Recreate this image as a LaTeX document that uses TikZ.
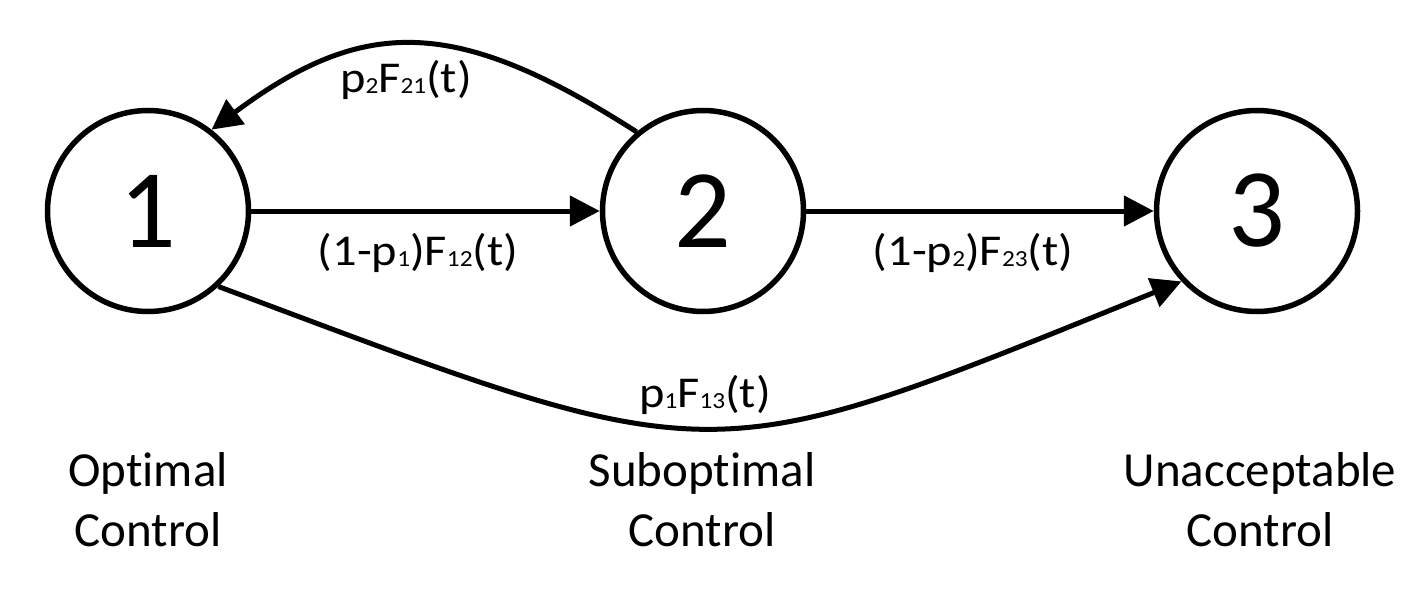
\documentclass[tikz,border=0pt]{standalone}
\usepackage{fontspec}
\setmainfont{Carlito}[Ligatures=NoCommon]
\usetikzlibrary{arrows.meta}
\newcommand{\sbs}[1]{\raisebox{-0.5pt}{\fontsize{23}{23}\selectfont #1}}
\newcommand{\elab}[1]{\scalebox{1.1}[1]{\fontsize{44}{52}\selectfont #1}}
\tikzset{
  state/.style={circle, draw=black, line width=5.5pt, minimum size=201pt, inner sep=0pt,
                font=\fontsize{112}{112}\selectfont},
  arr/.style={line width=5pt, -{Triangle[length=30pt,width=30pt]}},
  elabel/.style={inner sep=0pt},
  lbl/.style={align=center, inner sep=0pt, font=\fontsize{49}{60}\selectfont}
}
\begin{document}
\begin{tikzpicture}[x=1pt,y=-1pt]
\useasboundingbox (0,0) rectangle (1423,591);
\node[state] (n1) at (148,211) {1};
\node[state] (n2) at (703,211) {2};
\node[state] (n3) at (1257,211) {3};

\draw[arr] (n1) -- (n2);
\draw[arr] (n2) -- (n3);
\draw[arr] (n2.130) .. controls (456,16) and (364,16) .. (n1.52);
\draw[arr] (n1.-47) .. controls (724,476) and (700,476) .. (n3.-137);

\node[elabel] (l21) at (406,80) {\elab{p\sbs{2}F\sbs{21}(t)}};
\node[elabel] (l12) at (418,253) {\elab{(1-p\sbs{1})F\sbs{12}(t)}};
\node[elabel] (l23) at (973,253) {\elab{(1-p\sbs{2})F\sbs{23}(t)}};
\node[elabel] (l13) at (705,395) {\elab{p\sbs{1}F\sbs{13}(t)}};

\node[lbl] (t1) at (148,500) {Optimal\\Control};
\node[lbl] (t2) at (702,500) {Suboptimal\\Control};
\node[lbl] (t3) at (1260,500) {Unacceptable\\Control};
\end{tikzpicture}
\end{document}
